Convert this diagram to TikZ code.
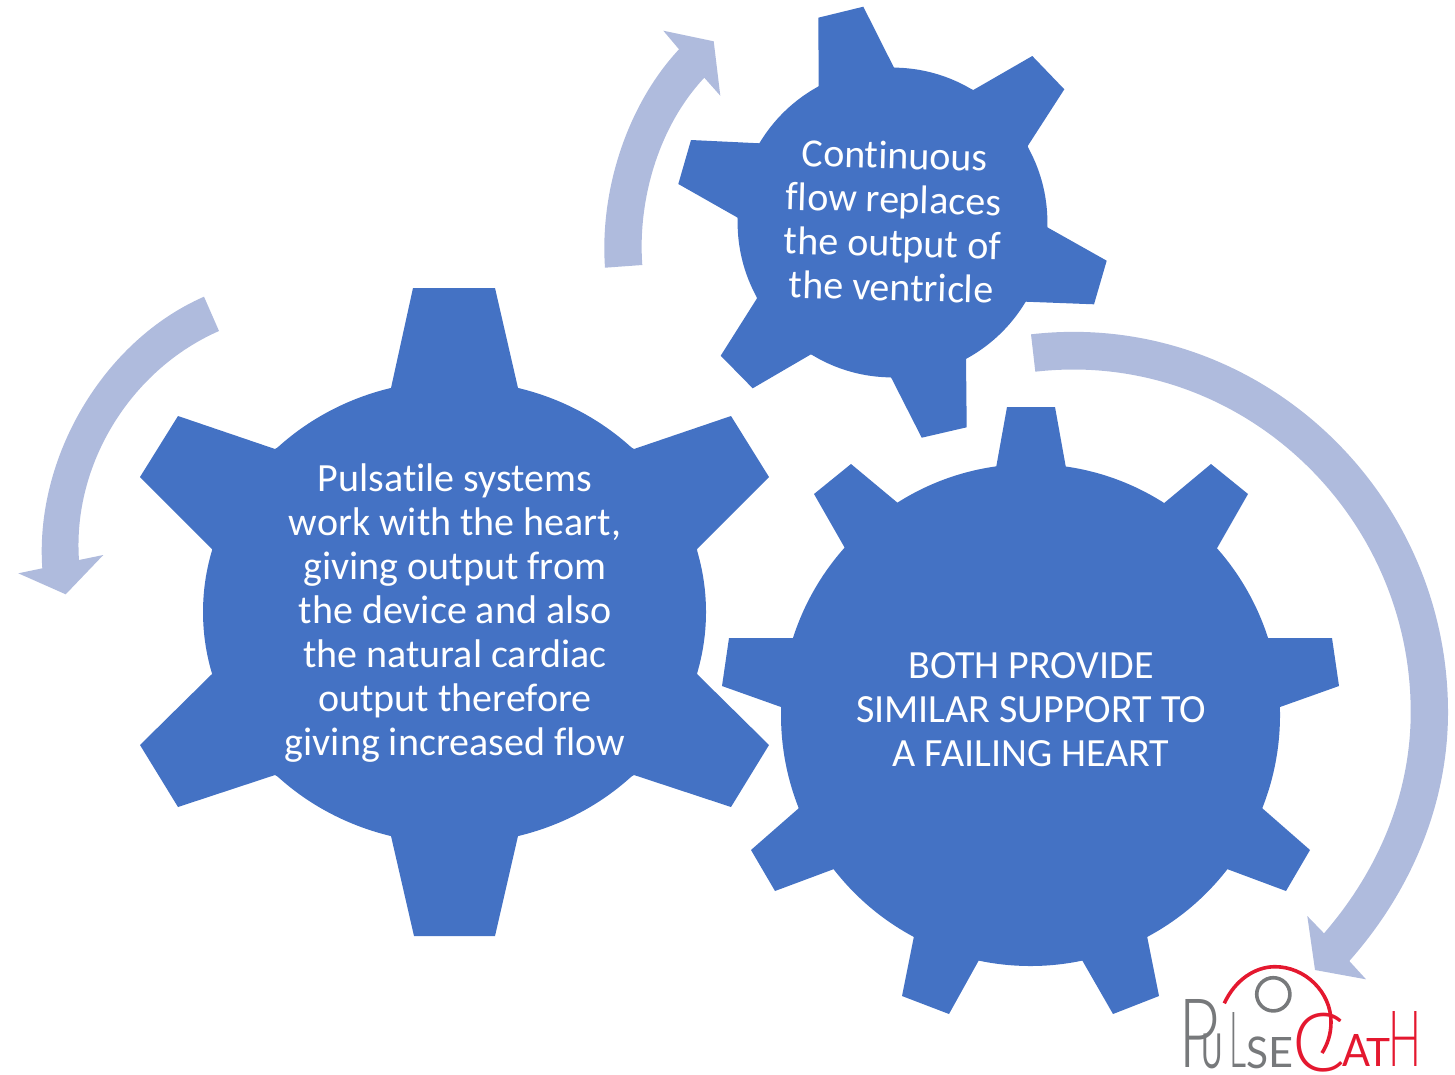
\documentclass[tikz,border=0pt]{standalone}
\usepackage{fontspec}
\usepackage{graphicx}
\setmainfont{Carlito}[Ligatures=NoCommon]
\newfontfamily\logolight[UprightFont=* Light]{Lato}
\newfontfamily\logoreg{Lato}
\definecolor{gearblue}{HTML}{4472C4}
\definecolor{arrowblue}{HTML}{AFBBDD}
\definecolor{logored}{HTML}{E4182F}
\definecolor{logogrey}{HTML}{77797B}
\tikzset{
  gear/.style={fill=gearblue,draw=none},
  sweep/.style={fill=arrowblue,draw=none},
  geartext/.style={text=white,align=center,font=\fontsize{40}{44}\selectfont,inner sep=0pt},
  logogreytext/.style={text=logogrey,inner sep=0pt,anchor=south west},
  logoredtext/.style={text=logored,inner sep=0pt,anchor=south west},
}
\newcommand{\lglyph}[4]{\resizebox*{#1pt}{#2pt}{\fontsize{60}{60}#3\selectfont #4}}
\begin{document}
\begin{tikzpicture}[x=1pt,y=-1pt]
\useasboundingbox (0,0) rectangle (1455,1074);
% arrows
\fill[sweep] (605,267.7) .. controls (599.5,190.7) and (627,105) .. (679,49.3)
  -- (663.3,30.7) -- (713.7,41.3) -- (720.3,95.7) -- (704.3,77.7)
  .. controls (659,126) and (637.5,199) .. (642.3,265) -- cycle;
\fill[sweep] (204,296.7) .. controls (103,340.8) and (34.6,458) .. (42.3,568.3)
  -- (18.3,573.3) -- (65.7,594.3) -- (103.3,555) -- (79,560)
  .. controls (72.3,464) and (131,369.5) .. (219,331) -- cycle;
\fill[sweep] (1031,334.3) .. controls (1254,308.7) and (1448,487.4) .. (1448,712)
  .. controls (1448,804.6) and (1410.7,891.7) .. (1349.3,961)
  -- (1366,979.3) -- (1315,970) -- (1307.3,916) -- (1324,933.3)
  .. controls (1378,870.8) and (1410.7,794.6) .. (1410.7,712)
  .. controls (1410.7,510) and (1236,348.7) .. (1035.3,371.7) -- cycle;
% small gear
\fill[gear] (892.5,222.5) circle [radius=154.9];
\fill[gear] (818.3,17.7) -- (863.3,6.7) -- (894,67.7) -- (973.3,90) -- (1032.3,56) -- (1064.3,89.3)
  -- (1027.7,146) -- (1047.3,227.3) -- (1106.7,260.7) -- (1094,304.3) -- (1025.7,301.7)
  -- (966,358.3) -- (966.7,427.3) -- (921.7,437.7) -- (891,377.3) -- (811,354.3)
  -- (752.7,388.3) -- (720.7,355.7) -- (757,298.3) -- (737.7,217.7) -- (678.3,184)
  -- (691,140) -- (759.7,143.3) -- (818.7,86.3) -- cycle;
% left gear
\fill[gear] (454.5,612) ellipse [x radius=251.5,y radius=231.5];
\fill[gear] (413,288) -- (495,288) -- (518,388) -- (634,449) -- (731,416) -- (769,477) -- (697,549)
  -- (697,674) -- (769,745) -- (731,807) -- (634,775) -- (518,836) -- (495,936) -- (414,936)
  -- (391,836) -- (275,775) -- (178,807) -- (140,745) -- (212,674) -- (212,549) -- (140,477)
  -- (178,416) -- (275,449) -- (391,388) -- cycle;
% right gear
\fill[gear] (1030.5,715) ellipse [x radius=249.5,y radius=251];
\fill[gear] (1007,407) -- (1055,407) -- (1066,468) -- (1163,504) -- (1211,464) -- (1248,494)
  -- (1216,550) -- (1268,638) -- (1332,638) -- (1339,686) -- (1280,707) -- (1262,808)
  -- (1310,850) -- (1286,891) -- (1227,869) -- (1147,936) -- (1159,996) -- (1113,1014)
  -- (1082,960) -- (979,960) -- (949,1014) -- (902,996) -- (914,936) -- (834,869)
  -- (775,891) -- (751,850) -- (799,808) -- (781,707) -- (722,686) -- (729,638)
  -- (794,638) -- (846,550) -- (814,494) -- (851,464) -- (899,504) -- (996,468) -- cycle;
% labels
\node[geartext,rotate=-1.5] (tsmall) at (893,221) {Continuous\\flow replaces\\the output of\\the ventricle};
\node[geartext] (tleft) at (455,613.5) {Pulsatile systems\\work with the heart,\\giving output from\\the device and also\\the natural cardiac\\output therefore\\giving increased flow};
\node[geartext] (tright) at (1031,710) {BOTH PROVIDE\\SIMILAR SUPPORT TO\\A FAILING HEART};
% logo
\draw[logogrey,line width=3.6pt] (1273.3,994.3) circle [radius=16.6];
\draw[logored,line width=3.6pt] (1224.3,1003.3) .. controls (1235,980) and (1255,966.7) .. (1275,966.7)
  .. controls (1305,966.7) and (1331,992) .. (1331,1022) .. controls (1331,1035) and (1327,1045) .. (1322,1053);
\node[logogreytext] (logop) at (1178.5,1068) {\lglyph{41}{68}{\logolight}{P}};
\node[logogreytext] (logou) at (1201.5,1069) {\lglyph{21.5}{35}{\logoreg}{U}};
\node[logogreytext] (logol) at (1229,1068) {\lglyph{17}{55}{\logolight}{L}};
\node[logogreytext] (logos) at (1246,1069) {\lglyph{22}{32}{\logoreg}{S}};
\node[logogreytext] (logoe) at (1268,1068) {\lglyph{25}{30}{\logoreg}{E}};
\node[logoredtext] (logoc) at (1292,1072) {\lglyph{53}{59}{\logolight}{C}};
\node[logoredtext] (logoa) at (1342.5,1067) {\lglyph{28}{32}{\logoreg}{A}};
\node[logoredtext] (logot) at (1366.5,1067) {\lglyph{24}{28}{\logoreg}{T}};
\node[logoredtext] (logoh) at (1388.5,1067) {\lglyph{33}{55}{\logolight}{H}};
\end{tikzpicture}
\end{document}
